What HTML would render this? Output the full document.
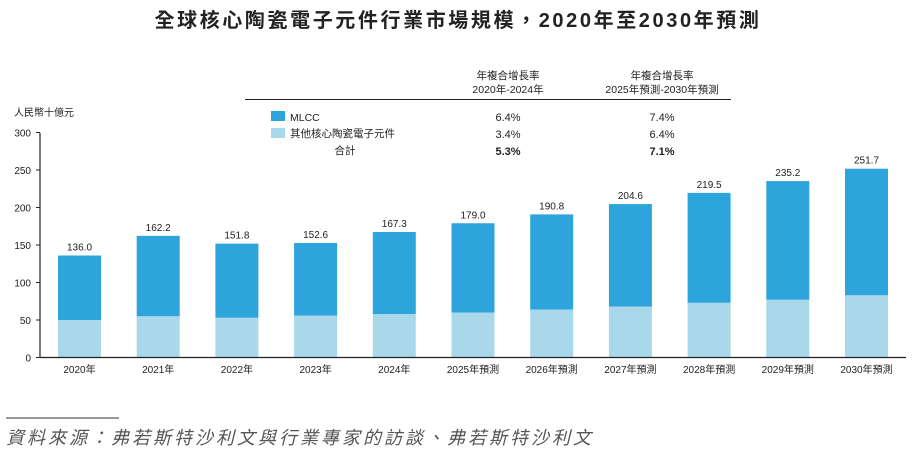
<!DOCTYPE html>
<html><head><meta charset="utf-8"><style>
body{margin:0;background:#fff;}
svg text{font-family:"Liberation Sans","Noto Sans CJK TC",sans-serif;}
</style></head><body>
<svg id="chart" width="913" height="455" xmlns="http://www.w3.org/2000/svg">
<text x="458" y="27" text-anchor="middle" font-size="20" font-weight="bold" fill="#222" letter-spacing="2.6">全球核心陶瓷電子元件行業市場規模，2020年至2030年預測</text>
<text x="14" y="116" font-size="10" fill="#222">人民幣十億元</text>
<g font-size="11" fill="#222">
<text x="508" y="79" text-anchor="middle" font-size="10.5">年複合增長率</text>
<text x="508" y="93" text-anchor="middle" font-size="10.5">2020年-2024年</text>
<text x="662" y="79" text-anchor="middle" font-size="10.5">年複合增長率</text>
<text x="662" y="93" text-anchor="middle" font-size="10.5">2025年預測-2030年預測</text>
<line x1="245" y1="99.5" x2="731" y2="99.5" stroke="#222" stroke-width="1"/>
<rect x="271" y="111" width="14" height="10" fill="#2ea4dc"/>
<text x="290" y="121" font-size="10.5">MLCC</text>
<rect x="271" y="128" width="14" height="10" fill="#a8d8ea"/>
<text x="290" y="137" font-size="10.5">其他核心陶瓷電子元件</text>
<text x="345" y="154" text-anchor="middle" font-size="10.5">合計</text>
<text x="508" y="121" text-anchor="middle">6.4%</text>
<text x="662" y="121" text-anchor="middle">7.4%</text>
<text x="508" y="138" text-anchor="middle">3.4%</text>
<text x="662" y="138" text-anchor="middle">6.4%</text>
<text x="508" y="155" text-anchor="middle" font-weight="bold">5.3%</text>
<text x="662" y="155" text-anchor="middle" font-weight="bold">7.1%</text>
</g>
<g id="plot"></g>
<line x1="6" y1="418" x2="119" y2="418" stroke="#333" stroke-width="1"/>
<text x="6" y="444" font-size="18" font-style="italic" fill="#555" letter-spacing="3">資料來源：弗若斯特沙利文與行業專家的訪談、弗若斯特沙利文</text>
</svg>
<script>
const categories=["2020年","2021年","2022年","2023年","2024年","2025年預測","2026年預測","2027年預測","2028年預測","2029年預測","2030年預測"];
const totals=[136.0,162.2,151.8,152.6,167.3,179.0,190.8,204.6,219.5,235.2,251.7];
const other=[50,55,53,56,58,60,64,68,73,77,83];
const yTicks=[0,50,100,150,200,250,300];
const NS="http://www.w3.org/2000/svg";
const g=document.getElementById('plot');
const y=v=>357.5-v*0.75;
const x=i=>79.5+i*78.7;
const bw=43;
function mk(t,a){const e=document.createElementNS(NS,t);for(const k in a)e.setAttribute(k,a[k]);g.appendChild(e);return e;}
yTicks.forEach(t=>{
  const tx=mk('text',{x:31,y:y(t)+4,'text-anchor':'end','font-size':10,fill:'#222'});tx.textContent=t;
  
  
  const tl=mk('line',{x1:36,x2:40,y1:y(t),y2:y(t),stroke:'#222'});
  
  
});
categories.forEach((c,i)=>{
  const ob=mk('rect',{x:x(i)-bw/2,y:y(other[i]),width:bw,height:y(0)-y(other[i]),fill:'#a8d8ea'});
  
  
  const mb=mk('rect',{x:x(i)-bw/2,y:y(totals[i]),width:bw,height:y(other[i])-y(totals[i]),fill:'#2ea4dc'});
  
  
  const vl=mk('text',{x:x(i),y:y(totals[i])-5,'text-anchor':'middle','font-size':10,fill:'#222'});vl.textContent=totals[i].toFixed(1);
  
  
  const cl=mk('text',{x:x(i),y:373,'text-anchor':'middle','font-size':10,fill:'#222'});cl.textContent=c;
  
  
});
const ax=mk('line',{x1:40,x2:906,y1:357.5,y2:357.5,stroke:'#222','stroke-width':1.2});


const ay=mk('line',{x1:40,x2:40,y1:133,y2:358,stroke:'#222','stroke-width':1.2});


</script>
</body></html>
